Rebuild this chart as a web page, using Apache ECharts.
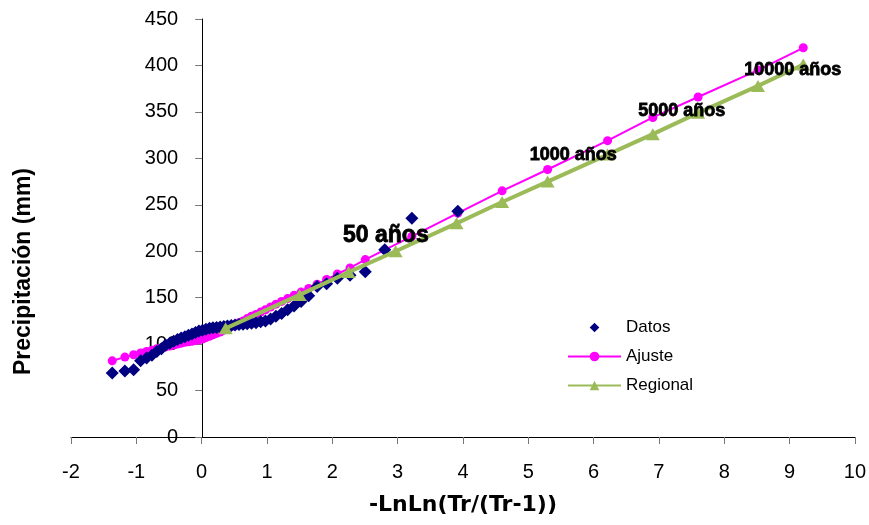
<!DOCTYPE html>
<html>
<head>
<meta charset="utf-8">
<script src="https://cdn.jsdelivr.net/npm/echarts@6/dist/echarts.min.js"></script>
<style>
html,body{margin:0;padding:0;background:#fff;}
#chart{width:869px;height:525px;}
</style>
</head>
<body>
<div id="chart"></div>
<script>
// Observed plotting positions (-LnLn(Tr/(Tr-1))) and precipitation (mm)
const xObs = [-1.369,-1.175,-1.041,-0.934,-0.843,-0.761,-0.686,-0.616,-0.551,-0.488,
  -0.428,-0.370,-0.313,-0.257,-0.202,-0.148,-0.094,-0.041,0.013,0.066,
  0.120,0.173,0.228,0.283,0.339,0.395,0.453,0.512,0.572,0.634,
  0.697,0.763,0.832,0.903,0.977,1.055,1.137,1.224,1.316,1.415,
  1.522,1.639,1.768,1.913,2.078,2.271,2.505,2.803,3.218,3.922];
const datos = [69,71,72.5,82,85,88,92,95,99,101,
  103,105,106.5,108,109.5,111,112.5,114,115,116,
  117,117.5,118,118.5,119,119.5,120,120.5,121,121.5,
  122,122.5,123,124,125,127,130,133,137,141,
  146,152,162,165,171,174,178,201.5,235.5,243];

// Fitted curve (Ajuste)
const ajusteX = [-1.369,-1.175,-1.041,-0.934,-0.843,-0.761,-0.686,-0.616,-0.551,-0.488,
  -0.428,-0.370,-0.313,-0.257,-0.202,-0.148,-0.094,-0.041,0.013,0.066,
  0.120,0.173,0.228,0.283,0.339,0.395,0.453,0.512,0.572,0.634,
  0.697,0.763,0.832,0.903,0.977,1.055,1.137,1.224,1.316,1.415,
  1.522,1.639,1.768,1.913,2.078,2.271,2.505,2.803,3.218,3.922,
  4.600,5.296,6.214,6.907,7.600,8.517,9.210];
const ajusteY = [82,86,88.5,90.5,92,93.5,95,96,97,98,
  99,100,101,102,102.5,103,104,104.5,105.5,107,
  108.5,110,111.5,113,115,117,119,121,123,125,
  127.5,130,132,134.5,137,140,143,146,149,152.5,
  156,160,164.5,169.5,175.5,182,191,201.5,216,241,
  265,288,319,344,366,395,419];

// Regional curve at return periods 2..10000 years
const regionalX = [0.367,1.500,2.250,2.970,3.902,4.600,5.296,6.214,6.907,7.600,8.517,9.210];
const regionalY = [117,153,177.5,200,230,253,275,304,326,349,378,401];

// Annotations
const annText = ["50 años","1000 años","5000 años","10000 años"];
const annX = [2.82,5.69,7.35,9.05];
const annY = [216.7,303.3,351,395.4];

const xTicks = [-2,-1,0,1,2,3,4,5,6,7,8,9,10];
const yTicks = [0,50,100,150,200,250,300,350,400,450];

const font = "'Liberation Sans', Arial, sans-serif";
const chart = echarts.init(document.getElementById('chart'), null, {renderer:'canvas'});

const zip = (a,b) => a.map((v,i)=>[v,b[i]]);

const gridLeft = 71, gridRight = 11;
const plotW = 869 - gridLeft - gridRight;
const xMin = xTicks[0], xMax = xTicks[xTicks.length-1];
const yAxisOffset = -plotW * (0 - xMin) / (xMax - xMin);

chart.setOption({
  animation:false,
  backgroundColor:'#ffffff',
  grid:{left:gridLeft,right:gridRight,top:19,bottom:88,containLabel:false},
  xAxis:{
    type:'value', min:xMin, max:xMax, interval:1,
    name:'-LnLn(Tr/(Tr-1))', nameLocation:'middle', nameGap:57,
    nameTextStyle:{fontFamily:"'DejaVu Sans', sans-serif",fontWeight:'bold',fontSize:22,color:'#000'},
    axisLine:{onZero:false,lineStyle:{color:'#000',width:1}},
    axisTick:{show:true,inside:false,length:7,lineStyle:{color:'#777'}},
    axisLabel:{margin:25,fontFamily:font,fontSize:20,color:'#000'},
    splitLine:{show:false}
  },
  yAxis:{
    type:'value', min:yTicks[0], max:yTicks[yTicks.length-1], interval:50,
    offset:yAxisOffset,
    axisLine:{onZero:false,lineStyle:{color:'#000',width:1}},
    axisTick:{show:true,inside:false,length:7,lineStyle:{color:'#777'}},
    axisLabel:{margin:24,fontFamily:font,fontSize:20,color:'#000'},
    splitLine:{show:false}
  },
  legend:{
    orient:'vertical', left:562, top:314, itemWidth:53, itemHeight:12, itemGap:12,
    data:['Datos','Ajuste','Regional'],
    textStyle:{fontFamily:font,fontSize:17,color:'#000'}
  },
  graphic:[{
    type:'text', left:12, top:168, rotation:Math.PI/2,
    style:{text:'Precipitación (mm)',font:"bold 23px 'Liberation Sans', Arial, sans-serif",fill:'#000'}
  }],
  series:[
    {
      name:'Ajuste', type:'line', z:2, data:zip(ajusteX,ajusteY),
      symbol:'circle', symbolSize:9, showAllSymbol:true,
      lineStyle:{color:'#FF00FF',width:2}, itemStyle:{color:'#FF00FF'}
    },
    {
      name:'Datos', type:'line', z:3, data:zip(xObs,datos),
      symbol:'diamond', symbolSize:13, showAllSymbol:true,
      lineStyle:{width:0,opacity:0}, itemStyle:{color:'#000080'}
    },
    {
      name:'Regional', type:'line', z:4, data:zip(regionalX,regionalY),
      symbol:'triangle', symbolSize:[14,12], showAllSymbol:true,
      lineStyle:{color:'#9BBB59',width:4}, itemStyle:{color:'#9BBB59'}
    },
    {
      name:'ann', type:'scatter', zlevel:1, z:10, symbol:'circle', symbolSize:1, silent:true,
      itemStyle:{color:'rgba(0,0,0,0)'},
      data:annText.map((t,i)=>({name:t,value:[annX[i],annY[i]],
        label:{fontSize: i===0 ? 23 : 18}})),
      label:{show:true,position:'inside',formatter:p=>p.name,fontFamily:font,fontWeight:'bold',
        color:'#000',opacity:1,textBorderColor:'#000',textBorderWidth:0.8}
    }
  ]
});
</script>
</body>
</html>
